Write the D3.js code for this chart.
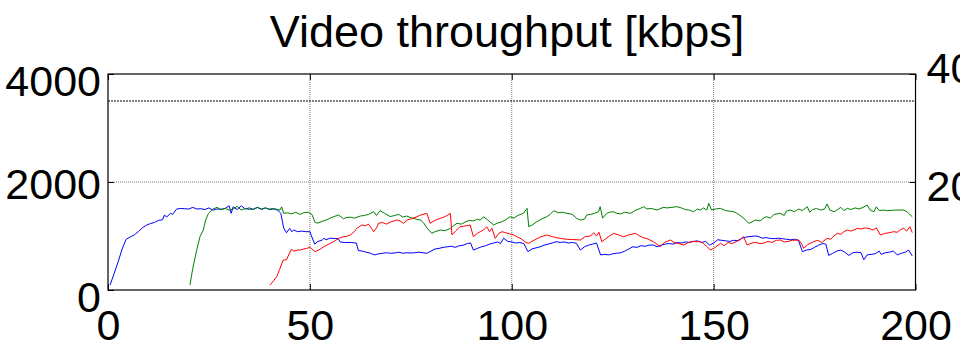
<!doctype html>
<html>
<head>
<meta charset="utf-8" />
<script src="https://cdn.jsdelivr.net/npm/d3@7"></script>
<style>
  body { margin: 0; background: #fff; }
  svg { display: block; font-family: "Liberation Sans", Arial, sans-serif; }
</style>
</head>
<body>
<svg id="chart" width="960" height="348"></svg>
<script>
// values
var title = "Video throughput [kbps]";
var xTicks = [0, 50, 100, 150, 200];
var yTicks = [0, 2000, 4000];
var rightTicks = [2000, 4000];
var refLevel = 3500;

var blueT = [0.5,1.5,2.5,3.5,4.5,5.5,6.5,7.5,8.5,9.5,10.5,11.5,12.5,13.5,14,14.5,15.5,16,17,18,19,20,21,22,23,24,25,26,27,28,29,30,30.5,31,32,33,34,35,36,37,38,39,40,41,42,42.8,43.5,44.2,45,45.5,46,47,48,49,50,50.5,51.2,52,53,53.5,54,55,56,57,57.5,58.5,60,61.5,62,63,64,65,66,67,68,69,70,71,72,73,74,75,76,77,78,79,80,81,82,83,84,85,86,87,88,89,89.8,90.5,91.5,92.5,93.5,94.5,95.5,96.5,97.2,98,99,100,101,102,103,104,105,106,107,108,109,110,111,112,113,114,115,116,117,118,119,120,121,122,123,124,125,126,127,128,129,130,131,132,133,134,135,136,137,138,139,140,141,142,143,144,145,146,147,148,149,150,151,152,153,154,155,156,157,158,159,160,161,162,163,164,165,166,167,168,169,170,171,172,173,174,175,176,177,177.8,178.5,179.5,180.5,181.5,182.5,183.5,184.5,185.5,186.5,187.2,188,189,190,191,191.5,192.5,193.5,194.5,195.5,196.5,197.5,198.3,199.2];
var blueV = [90,300,520,760,940,980,1020,1080,1150,1200,1230,1250,1290,1300,1390,1350,1420,1400,1500,1510,1505,1500,1530,1500,1505,1490,1520,1480,1500,1495,1510,1560,1420,1540,1490,1560,1500,1520,1490,1530,1500,1520,1490,1500,1480,1420,1150,1060,1140,1080,1110,1080,1090,1080,1080,980,850,900,920,960,930,960,955,950,890,880,880,870,730,720,700,680,650,670,680,690,680,685,700,680,690,685,690,700,690,680,720,760,770,790,800,810,790,820,830,860,870,740,770,800,820,850,870,890,860,960,900,890,870,880,860,710,760,780,800,830,850,870,895,880,890,870,880,865,740,800,830,850,870,650,660,650,670,680,690,720,760,800,790,820,810,830,835,800,830,850,860,850,880,870,890,880,900,910,880,900,830,870,930,920,910,900,920,915,960,980,990,1000,995,960,970,955,950,960,950,940,930,940,920,710,740,750,790,830,860,850,640,680,720,740,700,640,690,700,690,560,650,660,670,720,660,690,700,720,650,680,700,740,630];

var greenT = [20.3,21,22,22.8,23.6,24.2,24.9,26,27,28,29,30,31,32,33,34,35,36,37,38,39,40,41,42,42.6,43,43.5,44.5,45.5,46.5,47.5,48.5,49.6,50.5,51.3,52,53,54.2,55,56,57.1,58.3,59,60,61,62.5,63.5,64.5,65.8,66.5,67.4,68.5,69.9,71,72,73,74,75,76.5,77.5,78.1,79,80.2,81,82.3,83.5,84.8,85.6,86.4,87.5,88.5,89.5,90.5,91.5,92.2,93,94,95.5,96.5,97.5,98.5,99.6,100.5,101.5,102.9,103.8,104.2,105.2,106.2,107.5,108.7,109.5,110.4,111.5,112.5,113.7,115,116,117,118,118.6,119.5,120.5,121.5,121.9,122.5,123.5,124.2,125.2,126,127,128,129.4,130.5,131.5,132.7,133.5,134.5,136,137.5,138.5,140.9,142,143,144,145,146,146.7,147.5,148.3,148.8,149.5,150.5,151.7,153,155,156,157,158,158.7,159.5,160.3,161.5,162.5,163.2,164,165,166.5,167.5,168,169,170,171,172,173.2,173.8,174.5,175.5,176.5,177.5,178.1,178.8,179.8,180.5,181.5,182.3,183.1,184,185,186,187,188,188.8,189.7,190.3,191,192,193,195,197.1,198,199.2];
var greenV = [90,400,750,990,1110,1300,1420,1500,1530,1490,1510,1480,1500,1550,1480,1510,1490,1500,1530,1490,1520,1500,1510,1490,1480,1540,1420,1430,1410,1440,1400,1430,1440,1400,1250,1240,1270,1300,1330,1360,1390,1320,1340,1350,1330,1370,1380,1400,1450,1380,1470,1420,1360,1380,1400,1350,1370,1340,1310,1290,1250,1150,1050,1080,1110,1100,1140,1190,1235,1220,1260,1290,1280,1310,1296,1357,1300,1204,1240,1260,1300,1357,1330,1380,1420,1512,1173,1210,1265,1320,1357,1400,1469,1430,1440,1420,1400,1330,1296,1310,1389,1400,1420,1450,1543,1330,1420,1440,1450,1420,1410,1440,1420,1470,1500,1543,1500,1510,1481,1530,1520,1543,1520,1490,1480,1450,1500,1481,1520,1480,1605,1480,1500,1512,1470,1450,1410,1357,1290,1235,1260,1296,1280,1340,1357,1330,1400,1420,1380,1460,1481,1450,1500,1470,1543,1440,1490,1510,1480,1500,1593,1480,1450,1480,1530,1470,1512,1490,1520,1500,1530,1574,1480,1450,1540,1470,1480,1469,1480,1481,1440,1357];

var redT = [40.1,41,41.8,42.5,43.4,44.2,45.4,46,47,47.6,48.5,49.2,50,50.5,51.3,52.2,53,54.2,55,56,57.1,58.3,59,60,61,61.6,62.9,63.8,64.5,65.3,65.8,66.5,67,68,69,70,71.5,72.3,73.2,74.2,75.2,76.5,77.5,79,79.8,80.5,81.3,82.3,83.2,84,84.8,85.2,86.2,87.2,88,88.8,89.7,90.5,91.5,92.2,93,93.8,94.5,95.1,95.9,96.8,97.6,98.5,99.5,100.5,101.5,102.5,103.5,104.2,105,106,107,108.7,110,111,112,113.5,115,117,118.2,119.5,120.3,121,121.6,122.3,123.3,124.2,125.2,126.5,127.7,129,130.6,131.7,132.5,133.5,135.1,136.8,137.8,138.5,139.3,140.2,141.3,142.6,143.5,144.5,145.9,146.7,147.5,148.4,149.2,150.2,151.7,152.6,153.6,154.6,155.7,156.6,157.4,158.3,159.5,160.5,161.5,162.5,163.5,164.5,165.5,166.5,167.5,168.5,169.5,171.1,171.8,172.3,173.3,174.8,175.8,176.8,178.1,179,179.8,180.6,181.5,182.3,183.1,184,185,185.5,186.5,187.5,188.5,189.5,190.3,191.3,192.5,193.5,194.6,195.5,196.3,197.1,197.8,198.6,199.2];
var redV = [90,170,250,380,555,560,753,720,740,740,760,770,790,760,710,740,780,833,860,900,957,987,990,1019,1080,1142,1204,1190,1220,1140,1080,1150,1235,1250,1220,1260,1296,1280,1235,1300,1320,1357,1390,1420,1235,1270,1300,1327,1350,1380,1420,1019,1100,1173,1180,1190,1204,987,1050,1080,1111,1173,1080,1142,957,1050,1080,1060,1040,1019,980,940,880,864,900,940,980,1019,990,970,957,940,935,926,990,1000,1062,1000,1070,895,950,1000,1049,1020,987,1020,1049,1000,970,950,895,802,880,900,926,880,860,833,870,900,895,895,860,800,740,780,864,820,880,860,900,930,987,833,870,880,860,870,900,880,920,926,890,900,920,926,850,772,840,895,920,880,957,940,1000,1049,1030,1080,1111,1090,1120,1142,1130,1150,1140,1110,1150,1019,1050,1060,1080,1070,1120,1142,1090,1173,1062];

var series = [
  { name: "flow 1", color: "#0000ff", t: blueT, v: blueV },
  { name: "flow 2", color: "#008000", t: greenT, v: greenV },
  { name: "flow 3", color: "#ff0000", t: redT, v: redV }
];

var svg = d3.select("#chart");
var plotL = 108, plotR = 915.5, plotT = 74, plotB = 290;

var x = d3.scaleLinear().domain([0, 200]).range([plotL, plotR]);
var y = d3.scaleLinear().domain([0, 4000]).range([plotB, plotT]);

// title
svg.append("text")
  .attr("x", 507).attr("y", 47)
  .attr("text-anchor", "middle")
  .style("font-size", "45px")
  .text(title);

// grid (dotted)
var grid = svg.append("g");
grid.selectAll("line.gx").data(xTicks.slice(1, -1)).enter().append("line")
  .attr("x1", function (d) { return x(d); }).attr("x2", function (d) { return x(d); })
  .attr("y1", plotT).attr("y2", plotB)
  .attr("stroke", "#808080").attr("stroke-width", 1).attr("stroke-dasharray", "1,1");
grid.selectAll("line.gy").data(yTicks.slice(1, -1)).enter().append("line")
  .attr("x1", plotL).attr("x2", plotR)
  .attr("y1", function (d) { return y(d); }).attr("y2", function (d) { return y(d); })
  .attr("stroke", "#808080").attr("stroke-width", 1).attr("stroke-dasharray", "1,1");

// reference level
svg.append("line")
  .attr("x1", plotL).attr("x2", plotR)
  .attr("y1", y(refLevel)).attr("y2", y(refLevel))
  .attr("stroke", "#000").attr("stroke-width", 1).attr("stroke-dasharray", "2,1");

// lines
var line = d3.line()
  .x(function (d) { return x(d[0]); })
  .y(function (d) { return y(d[1]); });

svg.append("g").selectAll("path").data(series).enter().append("path")
  .attr("d", function (s) { return line(d3.zip(s.t, s.v)); })
  .attr("fill", "none")
  .attr("stroke", function (s) { return s.color; })
  .attr("stroke-width", 1)
  .attr("stroke-linejoin", "round");

// axes, ticks inward, box around
var fmt = function (d) { return String(d); };
var bottomAxis = svg.append("g").attr("transform", "translate(0," + plotB + ")")
  .call(d3.axisBottom(x).tickValues(xTicks).tickSizeInner(-6).tickSizeOuter(0).tickFormat(fmt));
var topAxis = svg.append("g").attr("transform", "translate(0," + plotT + ")")
  .call(d3.axisTop(x).tickValues(xTicks).tickSizeInner(-6).tickSizeOuter(0).tickFormat(""));
var leftAxis = svg.append("g").attr("transform", "translate(" + plotL + ",0)")
  .call(d3.axisLeft(y).tickValues(yTicks).tickSizeInner(-6).tickSizeOuter(0).tickFormat(fmt));
var rightAxis = svg.append("g").attr("transform", "translate(" + plotR + ",0)")
  .call(d3.axisRight(y).tickValues(rightTicks).tickSizeInner(-6).tickSizeOuter(0).tickFormat(fmt));

[bottomAxis, topAxis, leftAxis, rightAxis].forEach(function (a) {
  a.select(".domain").remove();
  a.selectAll("line").attr("stroke", "#000").attr("stroke-width", 1);
  a.selectAll("text").attr("fill", "#000")
    .style("font-size", "43px").style("font-family", "'Liberation Sans', Arial, sans-serif");
});

bottomAxis.selectAll("text").attr("y", 50).attr("dy", null);
leftAxis.selectAll("text")
  .attr("x", -7).attr("dy", null)
  .attr("y", function (d) { return d === 2000 ? 16 : 21; });
rightAxis.selectAll("text")
  .attr("x", 11).attr("dy", null)
  .attr("y", function (d) { return d === 2000 ? 18 : 8; });

svg.append("rect")
  .attr("x", plotL).attr("y", plotT)
  .attr("width", plotR - plotL).attr("height", plotB - plotT)
  .attr("fill", "none").attr("stroke", "#000").attr("stroke-width", 1.2);
</script>
</body>
</html>
